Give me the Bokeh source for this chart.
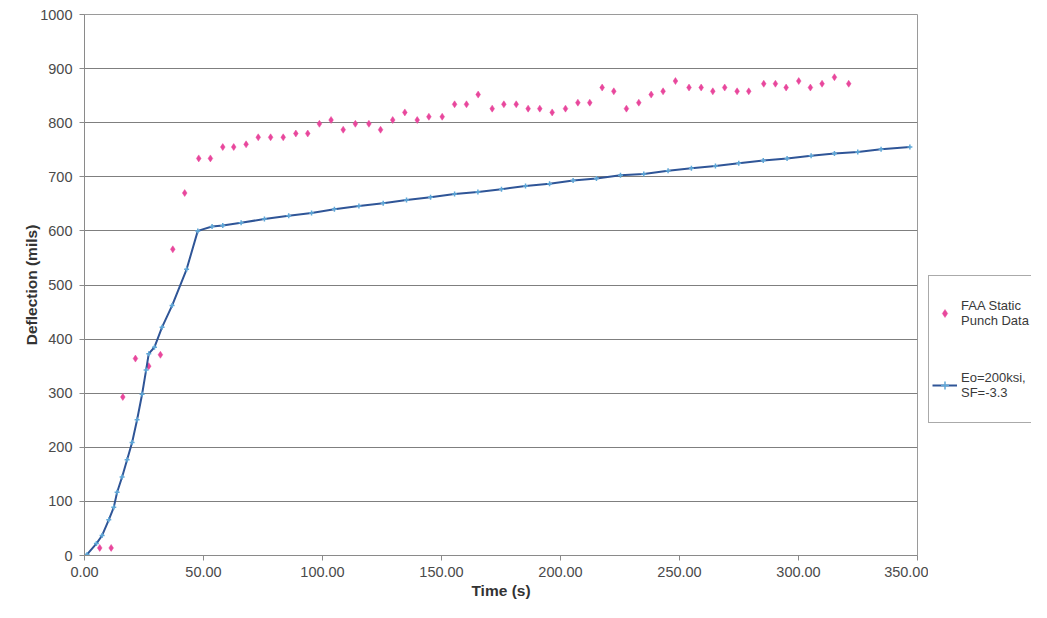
from bokeh.plotting import figure
from bokeh.layouts import row
from bokeh.models import Range1d, Legend, LegendItem, NumeralTickFormatter, FixedTicker
from bokeh.embed import file_html
from bokeh.resources import INLINE

# FAA static punch data (time s, deflection mils)
faa_t = [6.4, 11.2, 16.1, 21.4, 27.0, 31.9, 37.1, 42.1, 48.0, 52.9,
         58.1, 62.7, 67.9, 73.0, 78.2, 83.5, 88.8, 93.8, 98.7, 103.6,
         108.7, 113.8, 119.5, 124.4, 129.5, 134.6, 139.8, 144.7, 150.3, 155.5,
         160.5, 165.4, 171.3, 176.2, 181.4, 186.4, 191.3, 196.5, 202.1, 207.3,
         212.3, 217.5, 222.4, 227.7, 232.9, 238.1, 243.1, 248.3, 254.0, 259.1,
         264.0, 269.0, 274.2, 279.1, 285.4, 290.3, 294.8, 300.1, 305.0, 309.9,
         315.1, 321.1]
faa_d = [14, 14, 293, 364, 350, 371, 566, 670, 734, 734,
         755, 755, 760, 773, 773, 773, 780, 780, 798, 805,
         787, 798, 798, 787, 805, 819, 805, 811, 811, 834,
         834, 852, 826, 834, 834, 826, 826, 819, 826, 837,
         837, 865, 858, 826, 837, 852, 858, 877, 865, 865,
         858, 865, 858, 858, 872, 872, 865, 877, 865, 872,
         884, 872]

# Model: Eo=200ksi, SF=-3.3
line_t = [0, 1.1, 5.0, 7.4, 10.2, 12.3, 13.7, 15.8, 17.9, 20.0,
          22.1, 24.2, 25.9, 27.0, 29.4, 32.6, 36.8, 42.9, 47.6, 53.6,
          58.1, 65.8, 75.6, 85.8, 95.4, 105.0, 115.3, 125.5, 135.3, 145.4,
          155.5, 165.3, 175.2, 185.3, 195.4, 205.3, 215.1, 225.2, 235.0, 245.2,
          255.0, 265.1, 274.9, 285.2, 295.2, 305.3, 315.1, 324.9, 334.7, 346.8]
line_d = [0, 2, 22, 37, 66, 89, 117, 145, 177, 209,
          251, 298, 343, 373, 385, 422, 462, 529, 600, 608,
          610, 615, 622, 628, 633, 640, 646, 651, 657, 662,
          668, 672, 677, 683, 687, 693, 697, 703, 705, 711,
          716, 720, 725, 730, 734, 739, 743, 746, 751, 755]

x_ticks = [0, 50, 100, 150, 200, 250, 300, 350]
y_ticks = [0, 100, 200, 300, 400, 500, 600, 700, 800, 900, 1000]

labels = ["FAA Static\nPunch Data", "Eo=200ksi,\nSF=-3.3"]

FONT = "Liberation Sans"
pink = "#e8479c"
navy = "#2f5597"
light = "#5fa8d8"

p = figure(width=928, height=602, output_backend="svg", toolbar_location=None,
           x_range=Range1d(0, 350), y_range=Range1d(0, 1000),
           min_border_left=84, min_border_right=11, min_border_top=14, min_border_bottom=47)
p.background_fill_color = "white"
p.border_fill_color = "white"
p.outline_line_color = "#9a9a9a"

p.xgrid.visible = False
p.ygrid.grid_line_color = "#7f7f7f"
p.ygrid.grid_line_width = 1

for ax in (p.xaxis[0], p.yaxis[0]):
    ax.axis_line_color = "#8a8a8a"
    ax.major_tick_line_color = "#8a8a8a"
    ax.major_tick_out = 5
    ax.major_tick_in = 0
    ax.minor_tick_line_color = None
    ax.major_label_text_font = FONT
    ax.major_label_text_font_size = "14.5px"
    ax.major_label_text_color = "#4a4a4a"
    ax.axis_label_text_font = FONT
    ax.axis_label_text_font_size = "15.5px"
    ax.axis_label_text_font_style = "bold"
    ax.axis_label_text_color = "#333333"

p.xaxis.ticker = FixedTicker(ticks=x_ticks)
p.yaxis.ticker = FixedTicker(ticks=y_ticks)
p.xaxis.formatter = NumeralTickFormatter(format="0.00")
p.xaxis.axis_label = "Time (s)"
p.yaxis.axis_label = "Deflection (mils)"
p.xaxis.major_label_standoff = 6
p.xaxis.axis_label_standoff = 2
p.yaxis.major_label_standoff = 7
p.yaxis.axis_label_standoff = -3

p.scatter(faa_t, faa_d, marker="diamond", size=7, fill_color=pink,
          line_color=pink, line_width=0.5)
p.line(line_t, line_d, line_color=navy, line_width=2)
p.scatter(line_t, line_d, marker="cross", size=5, line_color=light, line_width=1.5)

# legend panel: a bare figure whose own ranges exclude the data, so only the legend shows
lg = figure(width=103, height=602, output_backend="svg", toolbar_location=None,
            x_range=Range1d(-2, -1), y_range=Range1d(-2, -1),
            min_border=0, min_border_left=0, min_border_right=0,
            min_border_top=0, min_border_bottom=0)
lg.axis.visible = False
lg.grid.visible = False
lg.outline_line_color = None
lg.background_fill_color = "white"
lg.border_fill_color = "white"
faa_l = lg.scatter(faa_t, faa_d, marker="diamond", size=7, fill_color=pink,
                   line_color=pink, line_width=0.5)
ln_l = lg.line(line_t, line_d, line_color=navy, line_width=2)
mk_l = lg.scatter(line_t, line_d, marker="cross", size=5, line_color=light, line_width=1.5)

legend = Legend(items=[LegendItem(label=labels[0], renderers=[faa_l]),
                       LegendItem(label=labels[1], renderers=[ln_l, mk_l])],
                location=(0, 132), orientation="vertical")
legend.padding = 3
legend.margin = 0
legend.spacing = 4
legend.glyph_width = 25
legend.glyph_height = 20
legend.label_height = 68
legend.label_standoff = 4
legend.label_text_font = FONT
legend.label_text_font_size = "13px"
legend.label_text_color = "#3a3a3a"
legend.border_line_color = "#555555"
legend.border_line_width = 1
legend.background_fill_color = "white"
legend.background_fill_alpha = 1
lg.add_layout(legend, "center")

layout = row(p, lg, spacing=0)
open("out.html", "w").write(file_html(layout, INLINE))
